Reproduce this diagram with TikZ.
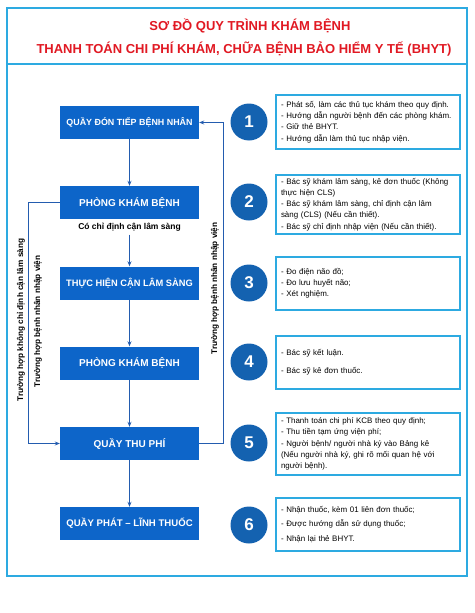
\documentclass[tikz,border=0pt]{standalone}
\usepackage{fontspec}
\setmainfont{Liberation Sans}
\usetikzlibrary{arrows.meta}
\definecolor{boxblue}{RGB}{13,101,201}
\definecolor{numblue}{RGB}{20,98,176}
\definecolor{lineblue}{RGB}{35,92,175}
\definecolor{frameblue}{RGB}{45,170,225}
\definecolor{titlered}{RGB}{225,25,35}
\begin{document}
\begin{tikzpicture}[x=1pt,y=-1pt,>={Stealth[length=5pt,width=4pt]},
    stepbox/.style={fill=boxblue,text=white,font=\bfseries\fontsize{9.6}{11}\selectfont,minimum width=139pt,minimum height=33pt,inner sep=0pt},
    num/.style={circle,fill=numblue,text=white,font=\bfseries\fontsize{17}{17}\selectfont,minimum size=37pt,inner sep=0pt},
    note/.style={draw=frameblue,line width=1.6pt,text width=174pt,inner xsep=5pt,inner ysep=0pt,align=left,font=\fontsize{7.95}{11.2}\selectfont},
    flow/.style={->,draw=lineblue,line width=1.1pt},
    side/.style={font=\bfseries\fontsize{8.2}{8}\selectfont,rotate=90}]
\useasboundingbox[fill=white](0,0)rectangle(474,613);
\draw[frameblue,line width=1.6pt](7,8)rectangle(467,576);
\draw[frameblue,line width=1.2pt](7,64)--(467,64);
\node[text=titlered,font=\bfseries\fontsize{13}{13}\selectfont](t1) at (250,26){SƠ ĐỒ QUY TRÌNH KHÁM BỆNH};
\node[text=titlered,font=\bfseries\fontsize{13}{13}\selectfont](t2) at (244,49){THANH TOÁN CHI PHÍ KHÁM, CHỮA BỆNH BẢO HIỂM Y TẾ (BHYT)};
    \node[stepbox,font=\bfseries\fontsize{8.9}{11}\selectfont](b1) at (129.5,122.5){QUẦY ĐÓN TIẾP BỆNH NHÂN};
    \node[stepbox,font=\bfseries\fontsize{10}{11}\selectfont](b2) at (129.5,202.5){PHÒNG KHÁM BỆNH};
    \node[font=\bfseries\fontsize{8.5}{9}\selectfont](cls) at (129.5,227){Có chỉ định cận lâm sàng};
    \node[stepbox,font=\bfseries\fontsize{9.3}{11}\selectfont](b3) at (129.5,283){THỰC HIỆN CẬN LÂM SÀNG};
    \node[stepbox,font=\bfseries\fontsize{10}{11}\selectfont](b4) at (129.5,363){PHÒNG KHÁM BỆNH};
    \node[stepbox,font=\bfseries\fontsize{10}{11}\selectfont](b5) at (129.5,443.5){QUẦY THU PHÍ};
    \node[stepbox](b6) at (129.5,523.5){QUẦY PHÁT – LĨNH THUỐC};
\draw[flow](b1)--(b2);
\draw[flow](cls)--(b3);
\draw[flow](b3)--(b4);
\draw[flow](b4)--(b5);
\draw[flow](b5)--(b6);
\draw[flow](b2.west)--++(-31,0)|-(b5.west);
\draw[flow](b5.east)--++(24,0)|-(b1.east);
    \node[side](s1) at (21,320){Trường hợp không chỉ định cận lâm sàng};
    \node[side](s2) at (38,321.5){Trường hợp bệnh nhân nhập viện};
    \node[side](s3) at (215,288.5){Trường hợp bệnh nhân nhập viện};
\node[num](n1) at (249,122){1};
\node[num](n2) at (249,202){2};
\node[num](n3) at (249,283){3};
\node[num](n4) at (249,362){4};
\node[num](n5) at (249,443){5};
\node[num](n6) at (249,525){6};
\node[note,minimum height=54pt](d1) at (368,122){- Phát số, làm các thủ tục khám theo quy định.\\- Hướng dẫn người bệnh đến các phòng khám.\\- Giữ thẻ BHYT.\\- Hướng dẫn làm thủ tục nhập viện.};
\node[note,minimum height=59pt](d2) at (368,204.5){- Bác sỹ khám lâm sàng, kê đơn thuốc (Không\\thực hiện CLS)\\- Bác sỹ khám lâm sàng, chỉ định cận lâm\\sàng (CLS) (Nếu cần thiết).\\- Bác sỹ chỉ định nhập viện (Nếu cần thiết).};
\node[note,minimum height=53pt](d3) at (368,283.5){- Đo điện não đồ;\\- Đo lưu huyết não;\\- Xét nghiệm.\\[2pt]};
\node[note,minimum height=53pt](d4) at (368,362.5){- Bác sỹ kết luận.\\[7pt]- Bác sỹ kê đơn thuốc.};
\node[note,minimum height=62pt](d5) at (368,444){- Thanh toán chi phí KCB theo quy định;\\- Thu tiền tạm ứng viện phí;\\- Người bệnh/ người nhà ký vào Bảng kê\\(Nếu người nhà ký, ghi rõ mối quan hệ với\\người bệnh).};
\node[note,minimum height=53pt](d6) at (368,524.5){- Nhận thuốc, kèm 01 liên đơn thuốc;\\[3pt]- Được hướng dẫn sử dụng thuốc;\\[3pt]- Nhận lại thẻ BHYT.};
\end{tikzpicture}
\end{document}
